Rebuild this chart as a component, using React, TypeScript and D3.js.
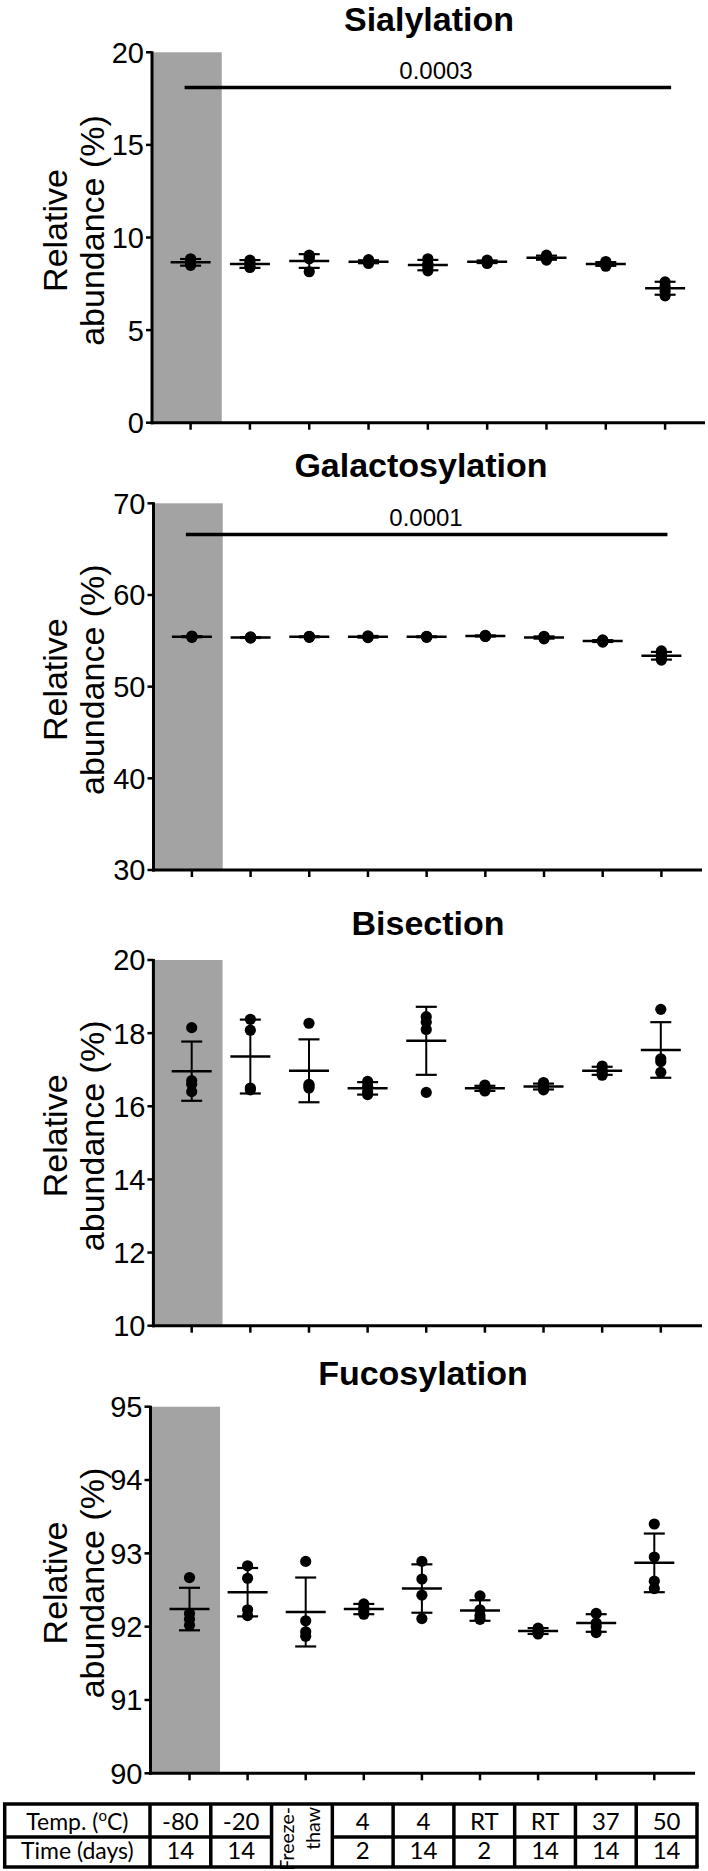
import React from 'react';
import * as d3 from 'd3';

const W = 708;
const H = 1871;

const groups = ['g1', 'g2', 'g3', 'g4', 'g5', 'g6', 'g7', 'g8', 'g9'];
const tempLabels = ['-80', '-20', 'Freeze-thaw', '4', '4', 'RT', 'RT', '37', '50'];
const timeLabels = ['14', '14', '', '2', '14', '2', '14', '14', '14'];
const yTitleLine1 = 'Relative';
const yTitleLine2 = 'abundance (%)';

// Sialylation
const sialPoints = [
  [8.85, 8.7, 8.6, 8.5], [8.78, 8.65, 8.45, 8.38], [9.05, 8.95, 8.85, 8.15],
  [8.8, 8.72, 8.67, 8.6], [8.85, 8.6, 8.38, 8.2], [8.78, 8.72, 8.65, 8.6],
  [9.05, 8.95, 8.9, 8.78], [8.7, 8.6, 8.53, 8.45], [7.6, 7.35, 7.1, 6.85],
];
const sialMean = [8.66, 8.57, 8.73, 8.69, 8.51, 8.69, 8.91, 8.57, 7.26];
const sialSD = [0.18, 0.21, 0.37, 0.08, 0.28, 0.07, 0.11, 0.1, 0.35];
const sialTicks = [0, 5, 10, 15, 20];

// Galactosylation
const galPoints = [
  [55.52, 55.47, 55.42, 55.38], [55.42, 55.38, 55.34, 55.3], [55.5, 55.46, 55.42, 55.38],
  [55.55, 55.47, 55.4, 55.35], [55.5, 55.46, 55.42, 55.38], [55.6, 55.55, 55.5, 55.47],
  [55.5, 55.4, 55.32, 55.22], [55.1, 55.0, 54.92, 54.86], [53.9, 53.6, 53.1, 52.9],
];
const galMean = [55.45, 55.36, 55.44, 55.44, 55.44, 55.53, 55.36, 54.97, 53.37];
const galSD = [0.06, 0.05, 0.05, 0.09, 0.05, 0.06, 0.12, 0.1, 0.42];
const galTicks = [30, 40, 50, 60, 70];

// Bisection
const bisPoints = [
  [18.15, 16.7, 16.6, 16.4], [18.38, 18.08, 16.5, 16.45], [18.27, 16.6, 16.55, 16.5],
  [16.68, 16.55, 16.4, 16.32], [18.45, 18.3, 18.1, 16.38], [16.58, 16.5, 16.45, 16.42],
  [16.65, 16.56, 16.5, 16.45], [17.1, 17.0, 16.92, 16.85], [18.65, 17.3, 17.22, 16.93],
];
const bisMean = [16.96, 17.36, 16.97, 16.49, 17.79, 16.49, 16.54, 16.97, 17.54];
const bisSD = [0.81, 1.01, 0.86, 0.17, 0.93, 0.07, 0.08, 0.11, 0.76];
const bisTicks = [10, 12, 14, 16, 18, 20];

// Fucosylation
const fucPoints = [
  [92.67, 92.18, 92.1, 92.02], [92.83, 92.66, 92.23, 92.15], [92.89, 92.08, 91.93, 91.87],
  [92.31, 92.26, 92.21, 92.17], [92.89, 92.65, 92.43, 92.11], [92.42, 92.23, 92.15, 92.1],
  [91.98, 91.95, 91.92, 91.9], [92.18, 92.05, 92.0, 91.92], [93.4, 92.95, 92.62, 92.52],
];
const fucMean = [92.24, 92.47, 92.2, 92.24, 92.52, 92.22, 91.94, 92.05, 92.87];
const fucSD = [0.29, 0.33, 0.47, 0.07, 0.33, 0.14, 0.04, 0.12, 0.4];
const fucTicks = [90, 91, 92, 93, 94, 95];

type Sig = { from: number; to: number; value: number; label: string; textX: number };
type PanelDef = {
  title: string;
  points: number[][];
  mean: number[];
  sd: number[];
  ticks: number[];
  top: number;
  bottom: number;
  axisX: number;
  first: number;
  last: number;
  axisEnd: number;
  titleX: number;
  titleY: number;
  sig?: Sig;
};

const panels: PanelDef[] = [
  {
    title: 'Sialylation', points: sialPoints, mean: sialMean, sd: sialSD, ticks: sialTicks,
    top: 52.3, bottom: 422.7, axisX: 152, first: 190.6, last: 665.1, axisEnd: 705,
    titleX: 429, titleY: 31,
    sig: { from: 0, to: 8, value: 18.1, label: '0.0003', textX: 436 },
  },
  {
    title: 'Galactosylation', points: galPoints, mean: galMean, sd: galSD, ticks: galTicks,
    top: 503.3, bottom: 870, axisX: 153.5, first: 191.9, last: 661.4, axisEnd: 702,
    titleX: 421, titleY: 477,
    sig: { from: 0, to: 8, value: 66.6, label: '0.0001', textX: 426 },
  },
  {
    title: 'Bisection', points: bisPoints, mean: bisMean, sd: bisSD, ticks: bisTicks,
    top: 960, bottom: 1325.7, axisX: 153.4, first: 191.7, last: 660.8, axisEnd: 702,
    titleX: 428, titleY: 935,
  },
  {
    title: 'Fucosylation', points: fucPoints, mean: fucMean, sd: fucSD, ticks: fucTicks,
    top: 1406.7, bottom: 1773.3, axisX: 150.5, first: 189.5, last: 654.3, axisEnd: 695,
    titleX: 423, titleY: 1385,
  },
];

const AX_FONT = '"Liberation Sans", Arial, Helvetica, sans-serif';
const TABLE_FONT = 'Lato, "Open Sans", sans-serif';

function Panel({ p }: { p: PanelDef }) {
  const x = d3.scalePoint<string>().domain(groups).range([p.first, p.last]);
  const y = d3
    .scaleLinear()
    .domain([p.ticks[0], p.ticks[p.ticks.length - 1]])
    .range([p.bottom, p.top]);
  const step = x.step();
  const grayRight = (x(groups[0]) as number) + step / 2 + 1.5;
  const cy = (p.top + p.bottom) / 2 - 7;
  const meanHalf = 20;
  const capHalf = 10.5;

  return (
    <g>
      <text x={p.titleX} y={p.titleY} textAnchor="middle" fontFamily={AX_FONT} fontWeight="bold" fontSize={34}>
        {p.title}
      </text>
      <rect x={p.axisX} y={p.top} width={grayRight - p.axisX} height={p.bottom - p.top} fill="#a3a3a3" />
      {/* y label */}
      <text transform={`translate(67,${cy}) rotate(-90)`} textAnchor="middle" fontFamily={AX_FONT} fontSize={34}>
        {yTitleLine1}
      </text>
      <text transform={`translate(104,${cy}) rotate(-90)`} textAnchor="middle" fontFamily={AX_FONT} fontSize={34}>
        {yTitleLine2}
      </text>
      {/* y axis */}
      <line x1={p.axisX} x2={p.axisX} y1={p.top - 1} y2={p.bottom + 1.5} stroke="#000" strokeWidth={3} />
      {p.ticks.map((t) => (
        <g key={t}>
          <line x1={p.axisX - 6} x2={p.axisX} y1={y(t)} y2={y(t)} stroke="#000" strokeWidth={2.5} />
          <text x={p.axisX - 8} y={y(t)} dy="0.36em" textAnchor="end" fontFamily={AX_FONT} fontSize={29}>
            {t}
          </text>
        </g>
      ))}
      {/* x axis */}
      <line x1={p.axisX - 1.5} x2={p.axisEnd} y1={p.bottom} y2={p.bottom} stroke="#000" strokeWidth={3} />
      {groups.map((g) => (
        <line key={g} x1={x(g)} x2={x(g)} y1={p.bottom} y2={p.bottom + 7} stroke="#000" strokeWidth={2.5} />
      ))}
      {/* significance */}
      {p.sig && (
        <g>
          <line
            x1={(x(groups[p.sig.from]) as number) - 6}
            x2={(x(groups[p.sig.to]) as number) + 6}
            y1={y(p.sig.value)}
            y2={y(p.sig.value)}
            stroke="#000"
            strokeWidth={3.5}
          />
          <text x={p.sig.textX} y={y(p.sig.value) - 8} textAnchor="middle" fontFamily={AX_FONT} fontSize={24}>
            {p.sig.label}
          </text>
        </g>
      )}
      {/* points */}
      {groups.map((g, i) => (
        <g key={g}>
          {p.points[i].map((v, j) => (
            <circle key={j} cx={x(g)} cy={y(v)} r={5.6} fill="#000" />
          ))}
        </g>
      ))}
      {/* mean +- sd */}
      {groups.map((g, i) => {
        const cx = x(g) as number;
        const m = p.mean[i];
        const s = p.sd[i];
        return (
          <g key={g} stroke="#000">
            <line x1={cx} x2={cx} y1={y(m - s)} y2={y(m + s)} strokeWidth={2} />
            <line x1={cx - capHalf} x2={cx + capHalf} y1={y(m + s)} y2={y(m + s)} strokeWidth={2.2} />
            <line x1={cx - capHalf} x2={cx + capHalf} y1={y(m - s)} y2={y(m - s)} strokeWidth={2.2} />
            <line x1={cx - meanHalf} x2={cx + meanHalf} y1={y(m)} y2={y(m)} strokeWidth={2.5} />
          </g>
        );
      })}
    </g>
  );
}

function Table() {
  const top = 1804;
  const mid = 1837;
  const bottom = 1867;
  const left = 4.7;
  const firstRight = 150;
  const right = 697;
  const col = d3.scaleBand<string>().domain(groups).range([firstRight, right]);
  const bw = col.bandwidth();
  const sw = 3.5;
  const freezeIdx = tempLabels.indexOf('Freeze-thaw');
  return (
    <g fontFamily={TABLE_FONT} fontSize={24}>
      <line x1={left - sw / 2} x2={right + sw / 2} y1={top} y2={top} stroke="#000" strokeWidth={sw} />
      <line x1={left - sw / 2} x2={right + sw / 2} y1={bottom} y2={bottom} stroke="#000" strokeWidth={sw} />
      <line x1={left} x2={(col(groups[freezeIdx]) as number)} y1={mid} y2={mid} stroke="#000" strokeWidth={sw} />
      <line x1={(col(groups[freezeIdx]) as number) + bw} x2={right} y1={mid} y2={mid} stroke="#000" strokeWidth={sw} />
      <line x1={left} x2={left} y1={top} y2={bottom} stroke="#000" strokeWidth={sw} />
      <line x1={firstRight} x2={firstRight} y1={top} y2={bottom} stroke="#000" strokeWidth={sw} />
      {groups.map((g) => (
        <line key={g} x1={(col(g) as number) + bw} x2={(col(g) as number) + bw} y1={top} y2={bottom} stroke="#000" strokeWidth={sw} />
      ))}
      <text x={(left + firstRight) / 2} y={1830} textAnchor="middle" fontSize={23}>
        Temp. (<tspan fontSize={15} dy={-9}>o</tspan><tspan dy={9}>C)</tspan>
      </text>
      <text x={(left + firstRight) / 2} y={1859} textAnchor="middle" fontSize={23}>
        Time (days)
      </text>
      {groups.map((g, i) => {
        const cx = (col(g) as number) + bw / 2;
        if (i === freezeIdx) {
          const parts = tempLabels[i].split('-');
          return (
            <g key={g} fontSize={19.5}>
              <text transform={`translate(${cx - 8},1807) rotate(-90)`} textAnchor="end">
                {parts[0] + '-'}
              </text>
              <text transform={`translate(${cx + 18},1807) rotate(-90)`} textAnchor="end">
                {parts[1]}
              </text>
            </g>
          );
        }
        return (
          <g key={g}>
            <text x={cx} y={1830} textAnchor="middle">
              {tempLabels[i]}
            </text>
            <text x={cx} y={1859} textAnchor="middle">
              {timeLabels[i]}
            </text>
          </g>
        );
      })}
    </g>
  );
}

export default function App() {
  return (
    <svg
      width={W}
      height={H}
      viewBox={`0 0 ${W} ${H}`}
      style={{ position: 'absolute', left: 0, top: 0, background: '#fff' }}
    >
      <rect x={0} y={0} width={W} height={H} fill="#fff" />
      {panels.map((p) => (
        <Panel key={p.title} p={p} />
      ))}
      <Table />
    </svg>
  );
}
